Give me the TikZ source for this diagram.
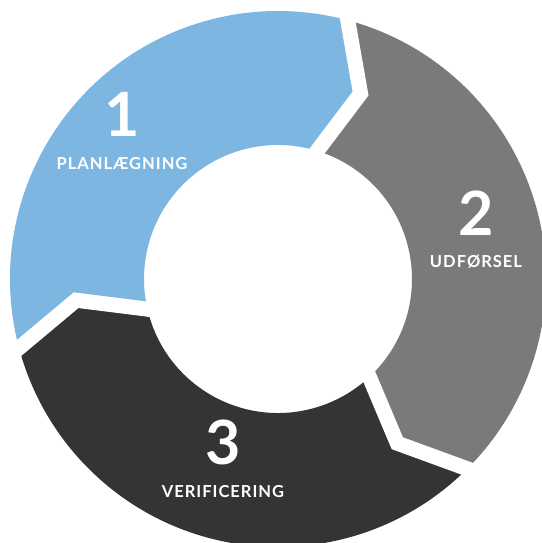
\documentclass[tikz,border=0pt]{standalone}
\usepackage{fontspec}
\setmainfont{Lato}
\definecolor{segblue}{RGB}{125,182,225}
\definecolor{seggray}{RGB}{122,122,122}
\definecolor{segdark}{RGB}{52,52,52}
\begin{document}
\begin{tikzpicture}[x=1pt,y=1pt,
  gapline/.style={draw=white,line width=15pt,miter limit=20,line join=miter},
  numlabel/.style={text=white,inner sep=0pt,anchor=base,font=\fontsize{61}{61}\selectfont\bfseries},
  steplabel/.style={text=white,inner sep=0pt,anchor=base,font=\fontsize{16.5}{16.5}\selectfont\bfseries\addfontfeatures{LetterSpace=6}}]
\useasboundingbox (-278,-264) rectangle (263,279);
\def\Ro{268}\def\Ri{134}\def\Rm{203}
% segments
\fill[segblue] (196.5:\Ro) arc[start angle=196.5,end angle=76.5,radius=\Ro]
  -- (66:\Rm) -- (76.5:\Ri) arc[start angle=76.5,end angle=196.5,radius=\Ri]
  -- (186:\Rm) -- cycle;
\fill[seggray] (76.5:\Ro) arc[start angle=76.5,end angle=-43.5,radius=\Ro]
  -- (-54:\Rm) -- (-43.5:\Ri) arc[start angle=-43.5,end angle=76.5,radius=\Ri]
  -- (66:\Rm) -- cycle;
\fill[segdark] (-43.5:\Ro) arc[start angle=-43.5,end angle=-163.5,radius=\Ro]
  -- (-174:\Rm) -- (-163.5:\Ri) arc[start angle=-163.5,end angle=-43.5,radius=\Ri]
  -- (-54:\Rm) -- cycle;
% gaps
\draw[gapline] (76.5:285) -- (66:\Rm) -- (76.5:115);
\draw[gapline] (-43.5:285) -- (-54:\Rm) -- (-43.5:115);
\draw[gapline] (196.5:285) -- (186:\Rm) -- (196.5:115);
% labels
\node[numlabel] (n1) at (-156,142) {1};
\node[steplabel] (t1) at (-156,109) {PLANLÆGNING};
\node[numlabel] (n2) at (198,43) {2};
\node[steplabel] (t2) at (198,12) {UDFØRSEL};
\node[numlabel] (n3) at (-55,-185) {3};
\node[steplabel] (t3) at (-55,-218) {VERIFICERING};
\end{tikzpicture}
\end{document}
